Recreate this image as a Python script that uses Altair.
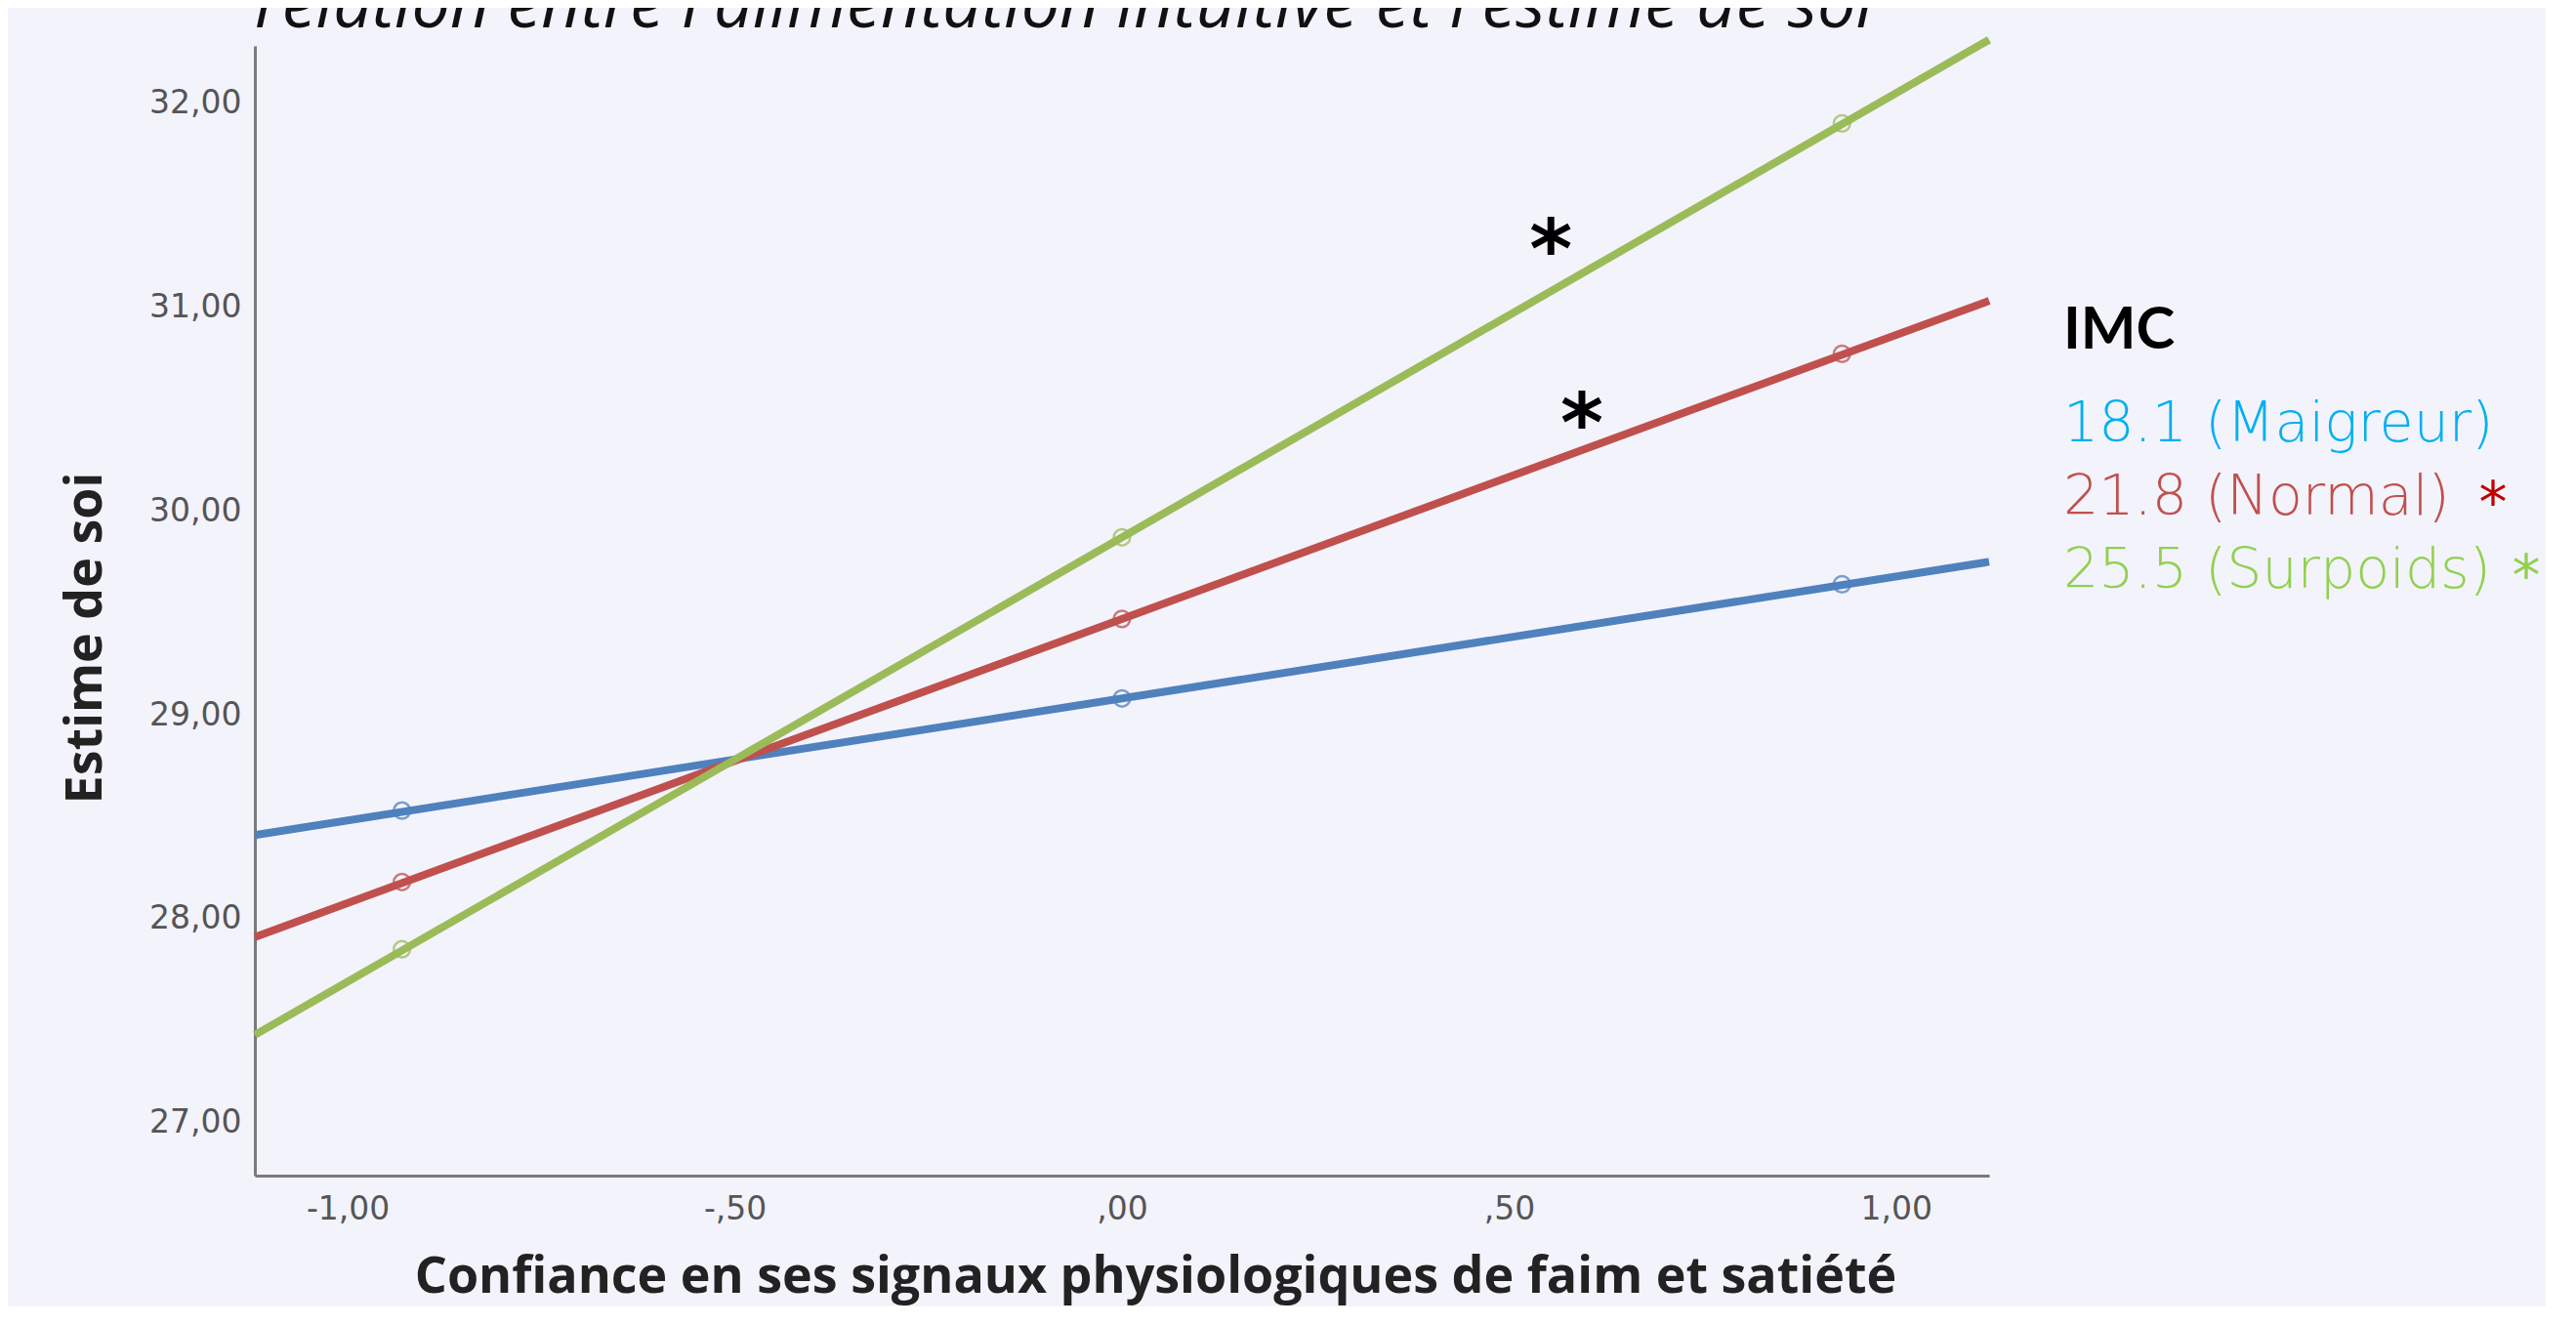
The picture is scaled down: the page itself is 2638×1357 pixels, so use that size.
import altair as alt
import pandas as pd

# ---------------- data ----------------
groups = ["18.1 (Maigreur)", "21.8 (Normal)", "25.5 (Surpoids)"]
line_colors = ["#4f81bd", "#c0504d", "#9bbb59"]
point_colors = ["#6a86b0", "#b05a78", "#6aa060"]
legend_colors = ["#00b0f0", "#c0504d", "#92d050"]

# regression line end points
x_line = [-1.12, 1.12]
blue_line = [28.41, 29.75]
red_line = [27.91, 31.03]
green_line = [27.43, 32.31]

# estimated values (open circles)
x_pts = [-0.93, 0.0, 0.93]
blue_pts = [28.53, 29.08, 29.64]
red_pts = [28.18, 29.47, 30.77]
green_pts = [27.85, 29.87, 31.90]

# significance asterisks on the plot
star_x = [0.554, 0.594]
star_y = [31.34, 30.49]

x_ticks = [-1.0, -0.5, 0.0, 0.5, 1.0]
x_tick_labels = ["-1,00", "-,50", ",00", ",50", "1,00"]
y_ticks = [27, 28, 29, 30, 31, 32]
y_tick_labels = ["27,00", "28,00", "29,00", "30,00", "31,00", "32,00"]

title_text = "relation entre l'alimentation intuitive et l'estime de soi"
x_title = "Confiance en ses signaux physiologiques de faim et satiété"
y_title = "Estime de soi"
legend_title = "IMC"
legend_stars = ["", "*", "*"]
legend_star_colors = ["#00b0f0", "#c00000", "#92d050"]

# ---------------- tables ----------------
line_vals = [blue_line, red_line, green_line]
pt_vals = [blue_pts, red_pts, green_pts]
df_line = pd.DataFrame(
    [{"x": x, "y": v, "group": g} for g, vals in zip(groups, line_vals) for x, v in zip(x_line, vals)]
)
df_pts = pd.DataFrame(
    [{"x": x, "y": v, "group": g} for g, vals in zip(groups, pt_vals) for x, v in zip(x_pts, vals)]
)
df_star = pd.DataFrame({"x": star_x, "y": star_y, "t": ["*"] * len(star_x)})


def label_expr(vals, labels):
    expr = "''"
    for v, l in reversed(list(zip(vals, labels))):
        expr = f"datum.value == {v} ? '{l}' : ({expr})"
    return expr


W, H = 1776, 1157
x_scale = alt.Scale(domain=[-1.12, 1.12], nice=False, zero=False)
y_scale = alt.Scale(domain=[26.74, 32.28], nice=False, zero=False)
color_line = alt.Color("group:N", scale=alt.Scale(domain=groups, range=line_colors), legend=None)
color_pts = alt.Color("group:N", scale=alt.Scale(domain=groups, range=point_colors), legend=None)

x_axis = alt.Axis(
    values=x_ticks, labelExpr=label_expr(x_ticks, x_tick_labels), ticks=False, grid=False,
    domainColor="#7a7a7a", domainWidth=3,
    labelFont="DejaVu Sans", labelFontSize=33, labelColor="#555555", labelPadding=18,
    title=x_title, titleFont="Open Sans", titleFontSize=52, titleFontWeight="bold",
    titleColor="#222222", titleX=922, titleY=119, titleBaseline="alphabetic", titleAlign="center",
)
y_axis = alt.Axis(
    values=y_ticks, labelExpr=label_expr(y_ticks, y_tick_labels), ticks=False, grid=False,
    domainColor="#7a7a7a", domainWidth=3,
    labelFont="DejaVu Sans", labelFontSize=33, labelColor="#555555", labelPadding=14,
    title=y_title, titleFont="Open Sans", titleFontSize=52, titleFontWeight="bold",
    titleColor="#222222", titleX=-174, titleY=606, titleBaseline="middle", titleAlign="center",
    titleAngle=270,
)

lines = alt.Chart(df_line).mark_line(strokeWidth=8, clip=False).encode(
    x=alt.X("x:Q", scale=x_scale, axis=x_axis),
    y=alt.Y("y:Q", scale=y_scale, axis=y_axis),
    color=color_line,
    detail="group:N",
)

points = alt.Chart(df_pts).mark_point(filled=False, size=280, strokeWidth=2.5, opacity=0.75).encode(
    x=alt.X("x:Q", scale=x_scale),
    y=alt.Y("y:Q", scale=y_scale),
    color=color_pts,
)

stars = alt.Chart(df_star).mark_text(
    font="DejaVu Sans", fontSize=84, fontWeight="bold", color="black",
    align="center", baseline="alphabetic", dy=41,
).encode(x=alt.X("x:Q", scale=x_scale), y=alt.Y("y:Q", scale=y_scale), text="t:N")

layers = [lines, points, stars]

# title (clipped at the top of the picture)
layers.append(
    alt.Chart(pd.DataFrame({"t": [title_text]})).mark_text(
        font="Open Sans", fontSize=70, fontStyle="italic", color="#111111",
        align="left", baseline="alphabetic",
    ).encode(x=alt.value(0), y=alt.value(-19), text="t:N")
)

# legend block
LX = 1852
layers.append(
    alt.Chart(pd.DataFrame({"t": [legend_title]})).mark_text(
        font="Lato", fontSize=60, fontWeight="bold", color="black", align="left", baseline="alphabetic",
    ).encode(x=alt.value(LX), y=alt.value(310), text="t:N")
)
leg_y = [405, 480, 555]
star_px = [0, 2292, 2326]
for g, c, yy, s, sc, sx in zip(groups, legend_colors, leg_y, legend_stars, legend_star_colors, star_px):
    layers.append(
        alt.Chart(pd.DataFrame({"t": [g]})).mark_text(
            font="DejaVu Sans", fontSize=57, fontWeight=200, color=c, align="left", baseline="alphabetic",
        ).encode(x=alt.value(LX), y=alt.value(yy), text="t:N")
    )
    if s:
        layers.append(
            alt.Chart(pd.DataFrame({"t": [s]})).mark_text(
                font="DejaVu Sans", fontSize=58, color=sc, align="center", baseline="alphabetic",
            ).encode(x=alt.value(sx), y=alt.value(yy + 8), text="t:N")
        )

chart = alt.layer(*layers).properties(
    width=W, height=H,
    background="#f3f3fc",
    padding={"left": 253, "top": 39, "right": 570, "bottom": 134},
    autosize=alt.AutoSizeParams(type="none"),
).configure_view(strokeWidth=0)

chart.save("out.html", embed_options={"renderer": "svg", "actions": False})
